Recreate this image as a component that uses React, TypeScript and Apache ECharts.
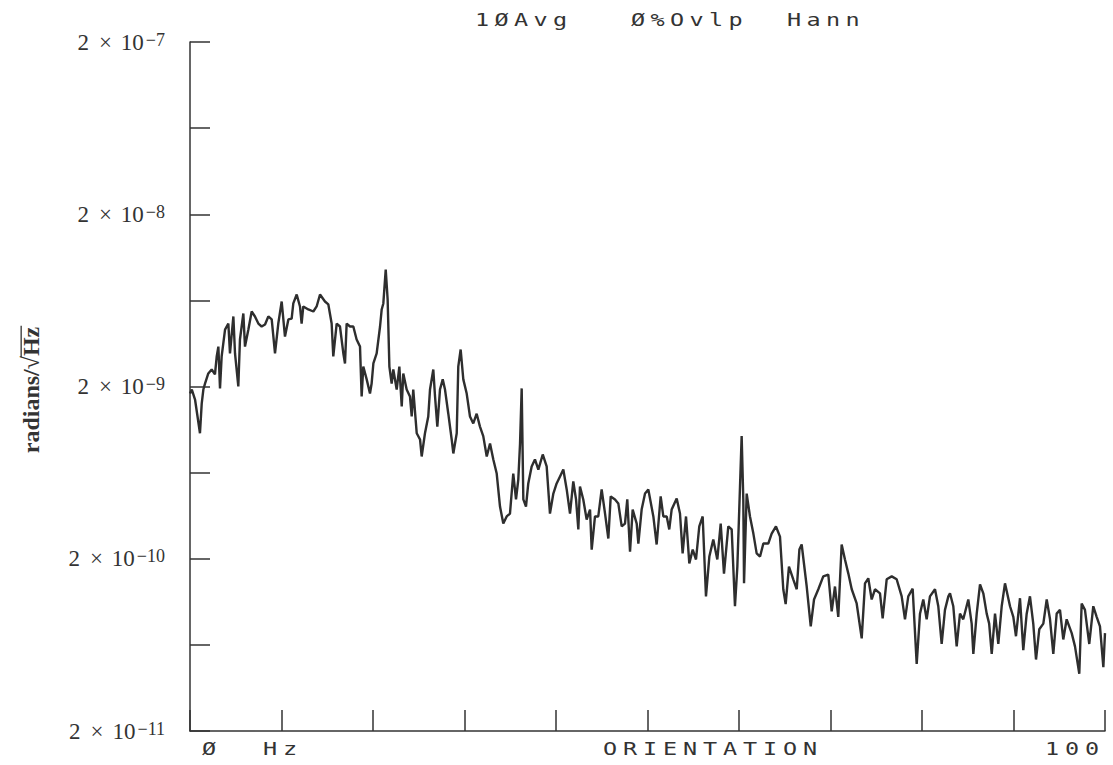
import React, { useEffect, useRef } from "react";
import * as echarts from "echarts";

// Frequency (Hz) of each sampled point of the trace
const FREQ = [
  0.0, 0.2, 0.55, 1.09, 1.28, 1.46, 1.64, 2.0, 2.37, 2.73, 2.92, 3.1, 3.28, 3.46, 3.83, 4.19, 4.37, 4.74, 4.92, 5.28,
  5.46, 5.83, 6.01, 6.38, 6.74, 7.1, 7.47, 7.83, 8.2, 8.56, 8.93, 9.29, 9.65, 10.02, 10.38, 10.75, 11.11, 11.29, 11.66, 12.02,
  12.2, 12.38, 12.93, 13.48, 13.84, 14.21, 14.75, 15.12, 15.48, 15.66, 16.03, 16.39, 16.76, 16.94, 17.12, 17.49, 17.85, 18.21, 18.58, 18.76,
  18.94, 19.31, 19.67, 19.85, 20.04, 20.4, 20.77, 20.95, 21.13, 21.39, 21.6, 21.79, 22.04, 22.22, 22.59, 22.88, 23.14, 23.31, 23.68, 24.04,
  24.23, 24.4, 24.78, 25.14, 25.32, 25.68, 26.04, 26.23, 26.59, 26.78, 27.03, 27.32, 27.62, 27.87, 28.23, 28.6, 28.78, 29.15, 29.32, 29.58,
  29.87, 30.24, 30.6, 30.96, 31.33, 31.69, 32.05, 32.43, 32.79, 33.15, 33.52, 33.88, 34.24, 34.61, 34.97, 35.33, 35.63, 35.88, 36.07, 36.25,
  36.43, 36.72, 36.97, 37.34, 37.7, 38.07, 38.55, 38.98, 39.34, 39.71, 40.07, 40.44, 40.8, 41.17, 41.53, 41.89, 42.19, 42.44, 42.62, 42.98,
  43.35, 43.72, 43.9, 44.26, 44.62, 44.99, 45.36, 45.72, 45.98, 46.45, 46.81, 47.18, 47.54, 47.79, 48.09, 48.38, 48.82, 49.0, 49.36, 49.73,
  50.09, 50.64, 51.0, 51.44, 51.73, 52.1, 52.38, 52.64, 53.19, 53.55, 53.84, 54.21, 54.57, 54.94, 55.3, 55.66, 56.03, 56.39, 56.76, 57.19,
  57.63, 58.0, 58.36, 58.83, 59.2, 59.56, 59.82, 60.11, 60.29, 60.47, 60.55, 60.84, 61.2, 61.57, 61.93, 62.3, 62.66, 63.2, 63.57, 64.04,
  64.48, 64.84, 65.1, 65.46, 65.93, 66.31, 66.6, 66.85, 67.4, 67.84, 68.2, 68.67, 69.21, 69.76, 70.13, 70.49, 70.85, 71.22, 71.58, 71.95,
  72.32, 72.86, 73.41, 73.77, 74.13, 74.5, 74.86, 75.41, 75.7, 76.14, 76.69, 77.23, 77.78, 78.14, 78.5, 78.98, 79.42, 79.78, 80.14, 80.51,
  80.87, 81.42, 81.78, 82.15, 82.51, 82.88, 83.06, 83.42, 83.79, 84.15, 84.51, 85.06, 85.43, 85.61, 85.98, 86.34, 86.7, 87.07, 87.34, 87.62,
  87.98, 88.34, 88.71, 89.07, 89.62, 89.98, 90.27, 90.71, 91.07, 91.44, 91.8, 92.16, 92.46, 92.82, 93.26, 93.63, 93.99, 94.35, 94.72, 95.08,
  95.44, 95.81, 96.36, 96.72, 97.19, 97.45, 97.81, 98.28, 98.72, 99.09, 99.45, 99.82, 100.0,
];

// Amplitude in units of 1e-10 radians/sqrt(Hz)
const AMP = [
  18.2, 19.2, 16.8, 10.7, 15.9, 19.2, 20.8, 23.8, 25.1, 23.5, 29.9, 34.1, 19.5, 29.9, 42.8, 46.4, 31.1, 51.0, 31.1, 20.0,
  37.5, 53.1, 34.1, 42.8, 54.5, 51.0, 46.4, 44.6, 45.8, 51.0, 49.0, 31.1, 46.4, 62.3, 39.0, 49.0, 49.6, 60.7, 68.4, 58.3,
  46.4, 58.3, 56.0, 54.5, 58.3, 68.4, 62.3, 59.9, 46.4, 29.9, 46.4, 44.6, 31.1, 27.2, 46.4, 44.6, 44.6, 37.5, 34.1, 17.5,
  26.1, 22.0, 18.2, 20.8, 27.2, 31.1, 44.6, 56.0, 60.7, 95.5, 64.0, 26.1, 20.8, 25.1, 19.2, 26.1, 15.3, 23.8, 19.2, 17.5,
  13.4, 19.2, 10.7, 9.85, 7.85, 10.7, 13.4, 19.2, 25.1, 17.5, 11.7, 19.2, 22.0, 19.2, 13.9, 9.85, 8.17, 10.7, 26.1, 32.8,
  22.0, 18.2, 13.4, 12.2, 13.9, 11.7, 10.3, 7.85, 9.34, 7.54, 6.25, 4.02, 3.2, 3.52, 3.66, 6.25, 4.42, 5.77, 9.34, 19.5,
  4.42, 4.02, 5.47, 6.87, 7.54, 6.59, 8.06, 6.87, 3.66, 4.78, 5.47, 6.01, 6.59, 5.05, 3.66, 5.62, 4.42, 2.96, 5.25, 4.42,
  3.38, 3.86, 2.26, 3.52, 3.52, 5.05, 3.66, 2.62, 4.6, 4.42, 4.19, 3.08, 3.2, 4.42, 2.2, 3.86, 3.2, 2.45, 3.86, 4.78,
  5.05, 3.52, 2.42, 4.6, 3.52, 3.52, 2.96, 3.86, 4.48, 3.66, 2.15, 3.52, 1.88, 2.26, 1.98, 3.08, 3.52, 1.21, 2.06, 2.59,
  1.98, 3.2, 1.64, 3.08, 2.96, 1.06, 1.8, 5.25, 10.3, 4.42, 1.44, 4.78, 3.52, 2.8, 2.15, 2.06, 2.45, 2.45, 2.8, 3.08,
  2.69, 1.33, 1.09, 1.8, 1.52, 1.33, 2.26, 2.42, 1.38, 0.81, 1.16, 1.33, 1.58, 1.62, 0.99, 1.38, 0.92, 2.42, 1.98, 1.64,
  1.33, 1.1, 0.69, 1.44, 1.54, 1.16, 1.33, 1.26, 0.9, 1.52, 1.58, 1.52, 1.21, 0.89, 1.21, 1.34, 0.49, 0.96, 1.16, 0.89,
  1.21, 1.33, 1.06, 0.64, 1.01, 1.21, 1.26, 1.06, 0.62, 0.96, 0.89, 1.16, 0.84, 0.56, 0.96, 1.42, 1.26, 0.96, 0.84, 0.56,
  0.96, 0.64, 1.06, 1.44, 1.06, 0.92, 0.71, 1.18, 0.59, 0.96, 1.21, 0.84, 0.52, 0.78, 0.84, 1.16, 0.89, 0.56, 0.96, 1.01,
  0.68, 0.89, 0.74, 0.62, 0.43, 1.1, 1.01, 0.64, 1.06, 0.92, 0.81, 0.47, 0.74,
];

// Decade exponents of the labelled ticks (label = 2 x 10^n)
const Y_EXPONENTS = [-11, -10, -9, -8, -7];
const X_TICKS = [0, 10, 20, 30, 40, 50, 60, 70, 80, 90, 100];
const TITLE = "1ØAvg   Ø%Ovlp  Hann";
const Y_NAME_HEAD = "radians/√";
const Y_NAME_TAIL = "Hz";
const X_LABELS = [
  { text: "Ø", x: 202 },
  { text: "Hz", x: 263 },
  { text: "ORIENTATION", x: 603 },
  { text: "100", x: 1045 },
];

const NB = "\u00a0";
const MONO = "'DejaVu Sans Mono', monospace";
const SERIF = "'Liberation Serif', 'DejaVu Serif', serif";
const INK = "#333";

// plotter-style lettering: wide glyphs on a fixed pitch
const PLOT_FS = 17;
const PLOT_SCALE = 1.38;
const plotterText = (s: string) =>
  s
    .split("")
    .map((c) => `{c|${c === " " ? NB : c}}`)
    .join(`{g|${NB}}`);
const plotterRich = (pitch: number) => {
  const gap = pitch / PLOT_SCALE - PLOT_FS * 0.602;
  return {
    c: { fontFamily: MONO, fontSize: PLOT_FS, fill: INK, color: INK },
    g: { fontFamily: MONO, fontSize: gap / 0.602, fill: INK, color: INK },
  };
};

const NAME_FS = 24;

export default function App() {
  const ref = useRef<HTMLDivElement>(null);

  useEffect(() => {
    document.body.style.margin = "0";
    const chart = echarts.init(ref.current!, undefined, { renderer: "svg" });
    const data = FREQ.map((f, i) => [f, Math.log10((AMP[i] * 1e-10) / 2)]);

    // measure the axis name so the radical's bar sits over "Hz"
    const ctx = document.createElement("canvas").getContext("2d")!;
    ctx.font = `bold ${NAME_FS}px ${SERIF}`;
    const wHead = ctx.measureText(Y_NAME_HEAD).width;
    const wAll = ctx.measureText(Y_NAME_HEAD + Y_NAME_TAIL).width;
    const nameCx = 31;
    const nameCy = 390;

    const plotterEl = (text: string, x: number, y: number, pitch: number) => ({
      type: "text",
      x,
      y,
      scaleX: PLOT_SCALE,
      style: {
        text: plotterText(text),
        rich: plotterRich(pitch),
        fontFamily: MONO,
        fontSize: PLOT_FS,
        fill: INK,
        textVerticalAlign: "middle",
      },
    });

    chart.setOption({
      animation: false,
      backgroundColor: "#fff",
      grid: { left: 190, right: 8, top: 42, bottom: 34, containLabel: false },
      xAxis: {
        type: "value",
        min: X_TICKS[0],
        max: X_TICKS[X_TICKS.length - 1],
        interval: 10,
        axisLine: { show: true, lineStyle: { color: INK, width: 1.5 } },
        axisTick: { show: true, inside: true, length: 21, lineStyle: { color: INK, width: 1.5 } },
        axisLabel: { show: false },
        splitLine: { show: false },
      },
      yAxis: {
        type: "value",
        min: Y_EXPONENTS[0],
        max: Y_EXPONENTS[Y_EXPONENTS.length - 1],
        interval: 0.5,
        axisLine: { show: true, lineStyle: { color: INK, width: 1.5 } },
        axisTick: { show: true, inside: true, length: 20, lineStyle: { color: INK, width: 1.5 } },
        splitLine: { show: false },
        axisLabel: {
          margin: 25,
          fontFamily: SERIF,
          fontSize: 23,
          color: INK,
          formatter: (v: number) => {
            if (!Y_EXPONENTS.includes(v)) return "";
            return `{d|2}{x|×}{t|10}{s|−${-v}}`;
          },
          rich: {
            d: { fontFamily: SERIF, fontSize: 23, color: INK, lineHeight: 23 },
            x: { fontFamily: SERIF, fontSize: 23, color: INK, lineHeight: 23, padding: [0, 9, 0, 10] },
            t: { fontFamily: SERIF, fontSize: 23, color: INK, lineHeight: 23 },
            s: {
              fontFamily: SERIF,
              fontSize: 18,
              color: INK,
              lineHeight: 18,
              verticalAlign: "top",
              padding: [0, 0, 0, 2],
            },
          },
        },
      },
      graphic: [
        plotterEl(TITLE, 475, 20, 19.5),
        ...X_LABELS.map((l) => plotterEl(l.text, l.x, 749, 20)),
        {
          type: "group",
          x: nameCx,
          y: nameCy + wAll / 2,
          rotation: Math.PI / 2,
          children: [
            {
              type: "text",
              x: 0,
              y: 0,
              style: {
                text: Y_NAME_HEAD + Y_NAME_TAIL,
                fontFamily: SERIF,
                fontWeight: "bold",
                fontSize: NAME_FS,
                fill: INK,
                textVerticalAlign: "middle",
              },
            },
            {
              type: "line",
              shape: { x1: wHead - 1, y1: -NAME_FS * 0.41, x2: wAll + 1, y2: -NAME_FS * 0.41 },
              style: { stroke: INK, lineWidth: 1.3 },
            },
          ],
        },
      ],
      series: [
        {
          type: "line",
          data,
          showSymbol: false,
          symbol: "none",
          lineStyle: { color: "#2e2e2e", width: 2.4 },
          silent: true,
        },
      ],
    });

    return () => chart.dispose();
  }, []);

  return (
    <div
      ref={ref}
      style={{ position: "fixed", left: 0, top: 0, width: 1113, height: 765, background: "#fff" }}
    />
  );
}
